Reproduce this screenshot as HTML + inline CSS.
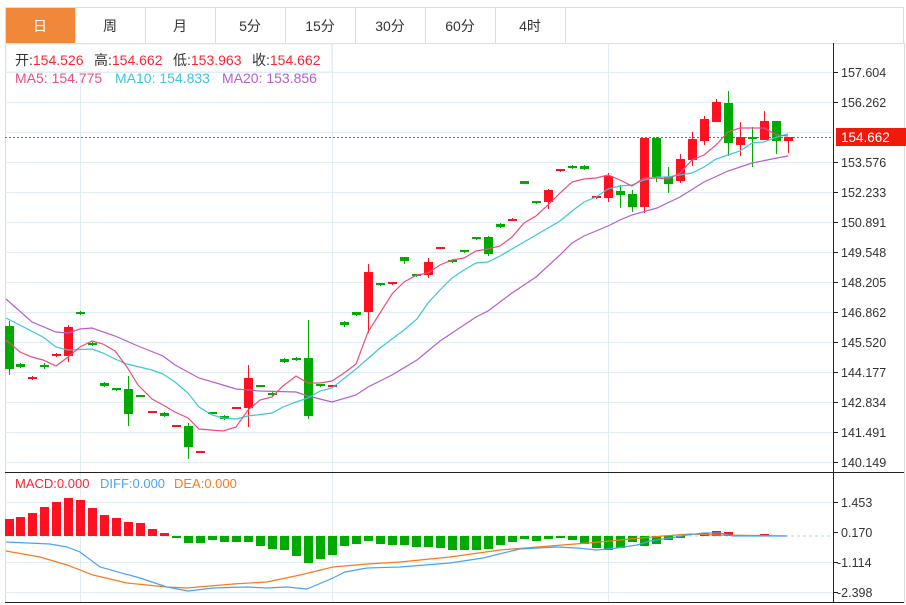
<!DOCTYPE html>
<html><head><meta charset="utf-8"><style>
body{margin:0;width:906px;height:605px;overflow:hidden;background:#fff;font-family:"Liberation Sans","Noto Sans CJK SC",sans-serif}
svg{position:absolute;left:0;top:0}
text{font-family:"Liberation Sans","Noto Sans CJK SC",sans-serif}
</style></head><body>
<svg width="906" height="605" viewBox="0 0 906 605">
<rect x="5.5" y="7.5" width="898" height="36" fill="#fff" stroke="#ddd"/>
<rect x="6" y="8" width="69" height="35" fill="#f0883a"/>
<g stroke="#ddd"><line x1="75.5" y1="8" x2="75.5" y2="43"/><line x1="145.5" y1="8" x2="145.5" y2="43"/><line x1="215.5" y1="8" x2="215.5" y2="43"/><line x1="285.5" y1="8" x2="285.5" y2="43"/><line x1="355.5" y1="8" x2="355.5" y2="43"/><line x1="425.5" y1="8" x2="425.5" y2="43"/><line x1="495.5" y1="8" x2="495.5" y2="43"/><line x1="565.5" y1="8" x2="565.5" y2="43"/></g>
<g font-size="14" text-anchor="middle" fill="#333"><text x="40" y="31" fill="#fff">日</text><text x="110" y="31">周</text><text x="180" y="31">月</text><text x="250" y="31">5分</text><text x="320" y="31">15分</text><text x="390" y="31">30分</text><text x="460" y="31">60分</text><text x="530" y="31">4时</text></g>
<line x1="5.5" y1="43" x2="5.5" y2="603" stroke="#ddd"/>
<line x1="904.5" y1="43" x2="904.5" y2="603" stroke="#ddd"/>
<g stroke="#e2ecf3"><line x1="5" y1="72.5" x2="833" y2="72.5"/><line x1="5" y1="102.5" x2="833" y2="102.5"/><line x1="5" y1="132.5" x2="833" y2="132.5"/><line x1="5" y1="162.5" x2="833" y2="162.5"/><line x1="5" y1="192.5" x2="833" y2="192.5"/><line x1="5" y1="222.5" x2="833" y2="222.5"/><line x1="5" y1="252.5" x2="833" y2="252.5"/><line x1="5" y1="282.5" x2="833" y2="282.5"/><line x1="5" y1="312.5" x2="833" y2="312.5"/><line x1="5" y1="342.5" x2="833" y2="342.5"/><line x1="5" y1="372.5" x2="833" y2="372.5"/><line x1="5" y1="402.5" x2="833" y2="402.5"/><line x1="5" y1="432.5" x2="833" y2="432.5"/><line x1="5" y1="462.5" x2="833" y2="462.5"/>
<line x1="5" y1="502.5" x2="833" y2="502.5"/><line x1="5" y1="562.5" x2="833" y2="562.5"/><line x1="5" y1="592.5" x2="833" y2="592.5"/>
<line x1="80.5" y1="43" x2="80.5" y2="603"/><line x1="332.5" y1="43" x2="332.5" y2="603"/><line x1="608.5" y1="43" x2="608.5" y2="603"/></g>
<rect x="6" y="44" width="326" height="28" fill="#fff" stroke="#e2ecf3"/>
<line x1="5" y1="472.5" x2="904" y2="472.5" stroke="#222"/>
<line x1="5" y1="602.5" x2="904" y2="602.5" stroke="#222"/>
<line x1="833.5" y1="43" x2="833.5" y2="603" stroke="#222"/>
<g font-size="14">
<text x="15" y="65" fill="#333">开:<tspan fill="#f23">154.526</tspan></text>
<text x="94" y="65" fill="#333">高:<tspan fill="#f23">154.662</tspan></text>
<text x="173" y="65" fill="#333">低:<tspan fill="#f23">153.963</tspan></text>
<text x="252" y="65" fill="#333">收:<tspan fill="#f23">154.662</tspan></text>
<text x="15" y="83" fill="#ec4d7e">MA5: 154.775</text>
<text x="115" y="83" fill="#3cc6da">MA10: 154.833</text>
<text x="222" y="83" fill="#b45fcc">MA20: 153.856</text>
</g>
<g font-size="12.5" fill="#333"><g stroke="#222"><line x1="833" y1="72.5" x2="838" y2="72.5"/><line x1="833" y1="102.5" x2="838" y2="102.5"/><line x1="833" y1="162.5" x2="838" y2="162.5"/><line x1="833" y1="192.5" x2="838" y2="192.5"/><line x1="833" y1="222.5" x2="838" y2="222.5"/><line x1="833" y1="252.5" x2="838" y2="252.5"/><line x1="833" y1="282.5" x2="838" y2="282.5"/><line x1="833" y1="312.5" x2="838" y2="312.5"/><line x1="833" y1="342.5" x2="838" y2="342.5"/><line x1="833" y1="372.5" x2="838" y2="372.5"/><line x1="833" y1="402.5" x2="838" y2="402.5"/><line x1="833" y1="432.5" x2="838" y2="432.5"/><line x1="833" y1="462.5" x2="838" y2="462.5"/><line x1="833" y1="502.5" x2="838" y2="502.5"/><line x1="833" y1="532.5" x2="838" y2="532.5"/><line x1="833" y1="562.5" x2="838" y2="562.5"/><line x1="833" y1="592.5" x2="838" y2="592.5"/></g>
<text x="841" y="77">157.604</text><text x="841" y="107">156.262</text><text x="841" y="167">153.576</text><text x="841" y="197">152.233</text><text x="841" y="227">150.891</text><text x="841" y="257">149.548</text><text x="841" y="287">148.205</text><text x="841" y="317">146.862</text><text x="841" y="347">145.520</text><text x="841" y="377">144.177</text><text x="841" y="407">142.834</text><text x="841" y="437">141.491</text><text x="841" y="467">140.149</text>
<text x="841" y="507">1.453</text><text x="841" y="537">0.170</text><text x="837" y="567">-1.114</text><text x="837" y="597">-2.398</text></g>
<line x1="5" y1="137.5" x2="833" y2="137.5" stroke="#f33" stroke-dasharray="2,2"/>
<rect x="836" y="128" width="70" height="18" fill="#f01a0a"/>
<text x="841" y="142" font-size="13.5" fill="#fff">154.662</text>
<g>
<line x1="9.5" y1="321" x2="9.5" y2="375" stroke="#0a0"/><rect x="5" y="326" width="9" height="43" fill="#0a0"/>
<line x1="20.5" y1="363" x2="20.5" y2="368" stroke="#0a0"/><rect x="16" y="364" width="9" height="3" fill="#0a0"/>
<line x1="32.5" y1="376" x2="32.5" y2="380" stroke="#f12"/><rect x="28" y="377" width="9" height="2" fill="#f12"/>
<line x1="44.5" y1="363" x2="44.5" y2="369" stroke="#0a0"/><rect x="40" y="365" width="9" height="2" fill="#0a0"/>
<line x1="56.5" y1="353" x2="56.5" y2="357" stroke="#f12"/><rect x="52" y="354" width="9" height="2" fill="#f12"/>
<line x1="68.5" y1="325" x2="68.5" y2="362" stroke="#f12"/><rect x="64" y="327" width="9" height="29" fill="#f12"/>
<line x1="80.5" y1="311" x2="80.5" y2="315" stroke="#0a0"/><rect x="76" y="312" width="9" height="2" fill="#0a0"/>
<line x1="92.5" y1="342" x2="92.5" y2="346" stroke="#0a0"/><rect x="88" y="343" width="9" height="2" fill="#0a0"/>
<line x1="104.5" y1="382" x2="104.5" y2="387" stroke="#0a0"/><rect x="100" y="383" width="9" height="3" fill="#0a0"/>
<line x1="116.5" y1="388" x2="116.5" y2="391" stroke="#0a0"/><rect x="112" y="388" width="9" height="2" fill="#0a0"/>
<line x1="128.5" y1="376" x2="128.5" y2="426" stroke="#0a0"/><rect x="124" y="389" width="9" height="25" fill="#0a0"/>
<line x1="140.5" y1="395" x2="140.5" y2="397" stroke="#0a0"/><rect x="136" y="395" width="9" height="2" fill="#0a0"/>
<line x1="152.5" y1="411" x2="152.5" y2="413" stroke="#f12"/><rect x="148" y="411" width="9" height="2" fill="#f12"/>
<line x1="164.5" y1="412" x2="164.5" y2="417" stroke="#0a0"/><rect x="160" y="413" width="9" height="3" fill="#0a0"/>
<line x1="176.5" y1="425" x2="176.5" y2="427" stroke="#f12"/><rect x="172" y="425" width="9" height="2" fill="#f12"/>
<line x1="188.5" y1="423" x2="188.5" y2="459" stroke="#0a0"/><rect x="184" y="426" width="9" height="21" fill="#0a0"/>
<line x1="200.5" y1="451" x2="200.5" y2="453" stroke="#f12"/><rect x="196" y="451" width="9" height="2" fill="#f12"/>
<line x1="212.5" y1="412" x2="212.5" y2="414" stroke="#0a0"/><rect x="208" y="412" width="9" height="2" fill="#0a0"/>
<line x1="224.5" y1="415" x2="224.5" y2="420" stroke="#0a0"/><rect x="220" y="416" width="9" height="3" fill="#0a0"/>
<line x1="236.5" y1="407" x2="236.5" y2="409" stroke="#f12"/><rect x="232" y="407" width="9" height="2" fill="#f12"/>
<line x1="248.5" y1="365" x2="248.5" y2="427" stroke="#f12"/><rect x="244" y="378" width="9" height="30" fill="#f12"/>
<line x1="260.5" y1="385" x2="260.5" y2="387" stroke="#0a0"/><rect x="256" y="385" width="9" height="2" fill="#0a0"/>
<line x1="272.5" y1="392" x2="272.5" y2="396" stroke="#0a0"/><rect x="268" y="393" width="9" height="2" fill="#0a0"/>
<line x1="284.5" y1="358" x2="284.5" y2="363" stroke="#0a0"/><rect x="280" y="359" width="9" height="3" fill="#0a0"/>
<line x1="296.5" y1="357" x2="296.5" y2="361" stroke="#0a0"/><rect x="292" y="358" width="9" height="2" fill="#0a0"/>
<line x1="308.5" y1="320" x2="308.5" y2="419" stroke="#0a0"/><rect x="304" y="358" width="9" height="58" fill="#0a0"/>
<line x1="320.5" y1="384" x2="320.5" y2="387" stroke="#0a0"/><rect x="316" y="384" width="9" height="2" fill="#0a0"/>
<line x1="332.5" y1="385" x2="332.5" y2="387" stroke="#f12"/><rect x="328" y="385" width="9" height="2" fill="#f12"/>
<line x1="344.5" y1="321" x2="344.5" y2="327" stroke="#0a0"/><rect x="340" y="322" width="9" height="3" fill="#0a0"/>
<line x1="356.5" y1="312" x2="356.5" y2="316" stroke="#0a0"/><rect x="352" y="312" width="9" height="3" fill="#0a0"/>
<line x1="368.5" y1="264" x2="368.5" y2="333" stroke="#f12"/><rect x="364" y="272" width="9" height="40" fill="#f12"/>
<line x1="380.5" y1="283" x2="380.5" y2="286" stroke="#0a0"/><rect x="376" y="283" width="9" height="2" fill="#0a0"/>
<line x1="392.5" y1="282" x2="392.5" y2="285" stroke="#f12"/><rect x="388" y="282" width="9" height="2" fill="#f12"/>
<line x1="404.5" y1="257" x2="404.5" y2="264" stroke="#0a0"/><rect x="400" y="257" width="9" height="4" fill="#0a0"/>
<line x1="416.5" y1="274" x2="416.5" y2="277" stroke="#0a0"/><rect x="412" y="274" width="9" height="2" fill="#0a0"/>
<line x1="428.5" y1="258" x2="428.5" y2="278" stroke="#f12"/><rect x="424" y="262" width="9" height="13" fill="#f12"/>
<line x1="440.5" y1="247" x2="440.5" y2="249" stroke="#f12"/><rect x="436" y="247" width="9" height="2" fill="#f12"/>
<line x1="452.5" y1="260" x2="452.5" y2="263" stroke="#0a0"/><rect x="448" y="260" width="9" height="2" fill="#0a0"/>
<line x1="464.5" y1="250" x2="464.5" y2="253" stroke="#0a0"/><rect x="460" y="250" width="9" height="2" fill="#0a0"/>
<line x1="476.5" y1="237" x2="476.5" y2="240" stroke="#0a0"/><rect x="472" y="237" width="9" height="2" fill="#0a0"/>
<line x1="488.5" y1="236" x2="488.5" y2="256" stroke="#0a0"/><rect x="484" y="237" width="9" height="17" fill="#0a0"/>
<line x1="500.5" y1="223" x2="500.5" y2="228" stroke="#0a0"/><rect x="496" y="224" width="9" height="3" fill="#0a0"/>
<line x1="512.5" y1="218" x2="512.5" y2="221" stroke="#f12"/><rect x="508" y="219" width="9" height="2" fill="#f12"/>
<line x1="524.5" y1="181" x2="524.5" y2="184" stroke="#0a0"/><rect x="520" y="181" width="9" height="3" fill="#0a0"/>
<line x1="536.5" y1="201" x2="536.5" y2="204" stroke="#0a0"/><rect x="532" y="201" width="9" height="2" fill="#0a0"/>
<line x1="548.5" y1="189" x2="548.5" y2="209" stroke="#f12"/><rect x="544" y="190" width="9" height="12" fill="#f12"/>
<line x1="560.5" y1="169" x2="560.5" y2="172" stroke="#f12"/><rect x="556" y="169" width="9" height="2" fill="#f12"/>
<line x1="572.5" y1="165" x2="572.5" y2="169" stroke="#0a0"/><rect x="568" y="166" width="9" height="2" fill="#0a0"/>
<line x1="584.5" y1="165" x2="584.5" y2="170" stroke="#0a0"/><rect x="580" y="166" width="9" height="3" fill="#0a0"/>
<line x1="596.5" y1="196" x2="596.5" y2="199" stroke="#f12"/><rect x="592" y="196" width="9" height="2" fill="#f12"/>
<line x1="608.5" y1="173" x2="608.5" y2="202" stroke="#f12"/><rect x="604" y="176" width="9" height="22" fill="#f12"/>
<line x1="620.5" y1="185" x2="620.5" y2="208" stroke="#0a0"/><rect x="616" y="191" width="9" height="4" fill="#0a0"/>
<line x1="632.5" y1="190" x2="632.5" y2="212" stroke="#0a0"/><rect x="628" y="194" width="9" height="13" fill="#0a0"/>
<line x1="644.5" y1="138" x2="644.5" y2="213" stroke="#f12"/><rect x="640" y="138" width="9" height="69" fill="#f12"/>
<line x1="656.5" y1="137" x2="656.5" y2="182" stroke="#0a0"/><rect x="652" y="138" width="9" height="39" fill="#0a0"/>
<line x1="668.5" y1="167" x2="668.5" y2="193" stroke="#0a0"/><rect x="664" y="177" width="9" height="7" fill="#0a0"/>
<line x1="680.5" y1="154" x2="680.5" y2="183" stroke="#f12"/><rect x="676" y="159" width="9" height="22" fill="#f12"/>
<line x1="692.5" y1="132" x2="692.5" y2="166" stroke="#f12"/><rect x="688" y="139" width="9" height="21" fill="#f12"/>
<line x1="704.5" y1="116" x2="704.5" y2="145" stroke="#f12"/><rect x="700" y="119" width="9" height="22" fill="#f12"/>
<line x1="716.5" y1="99" x2="716.5" y2="122" stroke="#f12"/><rect x="712" y="102" width="9" height="20" fill="#f12"/>
<line x1="728.5" y1="91" x2="728.5" y2="156" stroke="#0a0"/><rect x="724" y="103" width="9" height="40" fill="#0a0"/>
<line x1="740.5" y1="122" x2="740.5" y2="156" stroke="#f12"/><rect x="736" y="137" width="9" height="8" fill="#f12"/>
<line x1="752.5" y1="127" x2="752.5" y2="167" stroke="#0a0"/><rect x="748" y="137" width="9" height="2" fill="#0a0"/>
<line x1="764.5" y1="111" x2="764.5" y2="140" stroke="#f12"/><rect x="760" y="121" width="9" height="19" fill="#f12"/>
<line x1="776.5" y1="121" x2="776.5" y2="154" stroke="#0a0"/><rect x="772" y="121" width="9" height="20" fill="#0a0"/>
<line x1="788.5" y1="137" x2="788.5" y2="153" stroke="#f12"/><rect x="784" y="137" width="9" height="4" fill="#f12"/>
</g>
<g fill="none" stroke-width="1.2">
<polyline stroke="#b45fcc" points="6,299 32,322 56,332 68,333 80,329 92,328 115,336 138,346 163,356 175,365 199,378 223,385 236,389 260,391 296,392 308,396 320,399 332,402 356,395 368,387 392,375 417,360 440,341 452,333 476,317 488,311 512,293 536,277 560,255 572,243 584,236 608,226 620,220 632,215 657,208 680,197 704,182 728,171 752,163 777,158 788,156"/>
<polyline stroke="#3cc6da" points="6,318 43,337 56,347 68,350 92,349 103,353 115,359 127,364 152,370 163,374 175,382 188,393 199,407 212,415 223,418 236,419 248,416 272,413 283,407 296,402 308,398 320,391 332,388 356,369 380,348 404,330 417,319 428,303 440,290 452,278 464,270 476,263 488,262 500,256 512,249 524,242 536,235 548,228 560,221 572,211 584,202 596,197 608,189 620,186 632,185 644,180 657,177 668,177 680,175 692,173 704,167 716,159 728,155 740,151 752,143 764,142 777,137 788,134"/>
<polyline stroke="#ec4d7e" points="6,340 20,352 32,357 43,360 56,366 68,357 80,347 92,341 103,344 115,351 127,367 138,385 152,399 163,405 175,412 188,418 199,429 223,431 236,427 248,410 260,400 272,397 283,386 296,376 308,383 320,383 332,381 344,373 356,364 368,332 380,313 392,294 404,282 417,275 428,273 440,265 452,260 464,258 476,251 488,249 500,246 512,237 524,223 536,216 548,205 560,193 572,182 584,179 596,178 608,175 620,180 632,186 644,178 657,178 668,179 680,173 692,160 704,155 716,145 728,132 740,128 752,128 764,128 777,135 788,136"/>
</g>
<g font-size="13">
<text x="15" y="488" fill="#f23">MACD:0.000</text>
<text x="100" y="488" fill="#4aa3f0">DIFF:0.000</text>
<text x="174" y="488" fill="#f47b20">DEA:0.000</text>
</g>
<line x1="5" y1="536" x2="833" y2="536" stroke="#a8d8ea" stroke-dasharray="3,3"/>
<g fill="#f12">
<rect x="5" y="519" width="9" height="17"/><rect x="16" y="517" width="9" height="19"/><rect x="28" y="513" width="9" height="23"/><rect x="40" y="507" width="9" height="29"/><rect x="52" y="502" width="9" height="34"/><rect x="64" y="498" width="9" height="38"/><rect x="76" y="500" width="9" height="36"/><rect x="88" y="508" width="9" height="28"/><rect x="100" y="515" width="9" height="21"/><rect x="112" y="518" width="9" height="18"/><rect x="124" y="522" width="9" height="14"/><rect x="136" y="523" width="9" height="13"/><rect x="148" y="529" width="9" height="7"/><rect x="160" y="533" width="9" height="3"/>
<rect x="700" y="533" width="9" height="3"/><rect x="712" y="531" width="9" height="5"/><rect x="724" y="532" width="9" height="4"/><rect x="760" y="534" width="9" height="2"/>
</g>
<g fill="#0a0">
<rect x="172" y="536" width="9" height="2"/><rect x="184" y="536" width="9" height="7"/><rect x="196" y="536" width="9" height="7"/><rect x="208" y="536" width="9" height="4"/><rect x="220" y="536" width="9" height="6"/><rect x="232" y="536" width="9" height="6"/><rect x="244" y="536" width="9" height="6"/><rect x="256" y="536" width="9" height="10"/><rect x="268" y="536" width="9" height="13"/><rect x="280" y="536" width="9" height="14"/><rect x="292" y="536" width="9" height="20"/><rect x="304" y="536" width="9" height="27"/><rect x="316" y="536" width="9" height="23"/><rect x="328" y="536" width="9" height="19"/><rect x="340" y="536" width="9" height="10"/><rect x="352" y="536" width="9" height="8"/><rect x="364" y="536" width="9" height="5"/><rect x="376" y="536" width="9" height="8"/><rect x="388" y="536" width="9" height="9"/><rect x="400" y="536" width="9" height="9"/><rect x="412" y="536" width="9" height="11"/><rect x="424" y="536" width="9" height="11"/><rect x="436" y="536" width="9" height="12"/><rect x="448" y="536" width="9" height="14"/><rect x="460" y="536" width="9" height="14"/><rect x="472" y="536" width="9" height="14"/><rect x="484" y="536" width="9" height="13"/><rect x="496" y="536" width="9" height="9"/><rect x="508" y="536" width="9" height="6"/><rect x="520" y="536" width="9" height="3"/><rect x="532" y="536" width="9" height="5"/><rect x="544" y="536" width="9" height="3"/><rect x="556" y="536" width="9" height="2"/><rect x="568" y="536" width="9" height="4"/><rect x="580" y="536" width="9" height="8"/><rect x="592" y="536" width="9" height="12"/><rect x="604" y="536" width="9" height="14"/><rect x="616" y="536" width="9" height="12"/><rect x="628" y="536" width="9" height="6"/><rect x="640" y="536" width="9" height="10"/><rect x="652" y="536" width="9" height="8"/><rect x="664" y="536" width="9" height="4"/><rect x="676" y="536" width="9" height="2"/>
</g>
<g fill="none" stroke-width="1.2">
<polyline stroke="#f47b20" points="6,551 40,557 67,565 93,575 127,583 167,587 187,588 233,584 267,582 300,575 333,567 367,564 400,562 450,557 500,550 550,546 600,542 630,539 663,536 690,534 717,535 787,536"/>
<polyline stroke="#4aa3f0" points="6,542 50,544 67,547 80,552 100,567 140,578 167,587 188,591 213,588 247,587 267,588 287,587 307,589 333,578 345,572 367,568 400,567 450,563 483,558 520,549 557,547 577,548 597,550 617,548 637,545 650,541 670,538 687,535 703,533 720,533 733,536 787,536"/>
</g>
</svg>
</body></html>
